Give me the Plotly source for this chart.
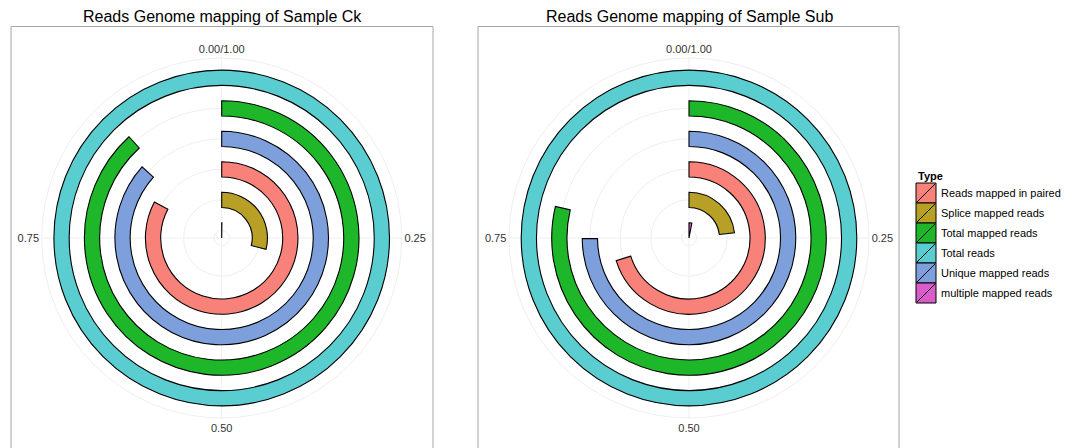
import plotly.graph_objects as go

# ---- data ----
types = ["multiple mapped reads", "Splice mapped reads", "Reads mapped in paired",
         "Unique mapped reads", "Total mapped reads", "Total reads"]
ring_pos = [1, 2, 3, 4, 5, 6]          # radial (inside -> outside) position
frac_ck = [0.002, 0.29, 0.828, 0.866, 0.882, 1.0]
frac_sub = [0.03, 0.232, 0.702, 0.749, 0.787, 1.0]
titles = ["Reads Genome mapping of Sample Ck", "Reads Genome mapping of Sample Sub"]
tick_vals = [0, 0.25, 0.5, 0.75]
tick_text = ["0.00/1.00", "0.25", "0.50", "0.75"]
legend_order = ["Reads mapped in paired", "Splice mapped reads", "Total mapped reads",
                "Total reads", "Unique mapped reads", "multiple mapped reads"]
colors = {
    "Reads mapped in paired": "#F8817A",
    "Splice mapped reads": "#B8A027",
    "Total mapped reads": "#1FB72A",
    "Total reads": "#5ACDD1",
    "Unique mapped reads": "#7D9FDB",
    "multiple mapped reads": "#DA5CCB",
}

W, H = 1073, 448
OX, OY = 8, 8   # page body margin offset
FONT = "Liberation Sans, Arial, Helvetica, sans-serif"
BAR_W = 0.5


def px(x):
    return (x - OX) / W


def py(y):
    return 1 - (y - OY) / H


fig = go.Figure()

centers_px = [221.7, 689.0]
cy_px = 238.0
rad_px = 180.0

for k, (fr, name) in enumerate(zip([frac_ck, frac_sub], ["polar", "polar2"])):
    for t, p, f in zip(types, ring_pos, fr):
        fig.add_trace(go.Barpolar(
            r=[BAR_W], base=[p - BAR_W / 2], theta=[f * 180], width=[f * 360],
            marker=dict(color=colors[t], line=dict(color="black", width=1.1)),
            name=t, showlegend=False, subplot=name,
        ))

polar_common = dict(
    bgcolor="white",
    radialaxis=dict(range=[0.75, 6.65], tickvals=ring_pos, showticklabels=False,
                    ticks="", showline=False, gridcolor="#efefef", gridwidth=1),
    angularaxis=dict(rotation=90, direction="clockwise", thetaunit="degrees",
                     tickmode="array", tickvals=[v * 360 for v in tick_vals],
                     ticktext=tick_text, ticks="", showline=True,
                     linecolor="#efefef", linewidth=1, gridcolor="#efefef",
                     tickfont=dict(size=11, color="#333333", family=FONT)),
)

doms = []
for cx in centers_px:
    doms.append(dict(x=[px(cx - rad_px), px(cx + rad_px)],
                     y=[py(cy_px + rad_px), py(cy_px - rad_px)]))

fig.update_layout(
    polar=dict(domain=doms[0], **polar_common),
    polar2=dict(domain=doms[1], **polar_common),
)

shapes = []
annotations = []
# panel borders
for x0, x1 in [(11, 433), (478, 899)]:
    shapes.append(dict(type="rect", xref="paper", yref="paper",
                       x0=px(x0), x1=px(x1), y0=-0.05, y1=py(26.5),
                       line=dict(color="#a6a6a6", width=1), fillcolor="rgba(0,0,0,0)",
                       layer="below"))
# titles
for cx, tt in zip([222, 689], titles):
    annotations.append(dict(text=tt, x=px(cx), y=py(16.5), xref="paper", yref="paper",
                            xanchor="center", yanchor="middle", showarrow=False,
                            font=dict(size=16, color="black", family=FONT)))
# legend
lx, ly, kw, kh = 916, 183, 20, 20
annotations.append(dict(text="<b>Type</b>", x=px(lx), y=py(176), xref="paper", yref="paper",
                        xanchor="left", yanchor="middle", showarrow=False,
                        font=dict(size=11, color="black", family=FONT)))
for i, t in enumerate(legend_order):
    y0 = ly + i * kh
    shapes.append(dict(type="rect", xref="paper", yref="paper",
                       x0=px(lx), x1=px(lx + kw), y0=py(y0 + kh), y1=py(y0),
                       fillcolor=colors[t], line=dict(color="black", width=1)))
    shapes.append(dict(type="line", xref="paper", yref="paper",
                       x0=px(lx + 1), x1=px(lx + kw - 1),
                       y0=py(y0 + kh - 1), y1=py(y0 + 1),
                       line=dict(color="black", width=1)))
    annotations.append(dict(text=t, x=px(lx + kw + 3), y=py(y0 + kh / 2),
                            xref="paper", yref="paper", xanchor="left", yanchor="middle",
                            showarrow=False, font=dict(size=11, color="black", family=FONT)))

fig.update_layout(
    width=W, height=H, autosize=False,
    margin=dict(l=0, r=0, t=0, b=0),
    paper_bgcolor="white", plot_bgcolor="white",
    shapes=shapes, annotations=annotations,
    showlegend=False,
    font=dict(family=FONT),
)

fig.write_html("out.html")
